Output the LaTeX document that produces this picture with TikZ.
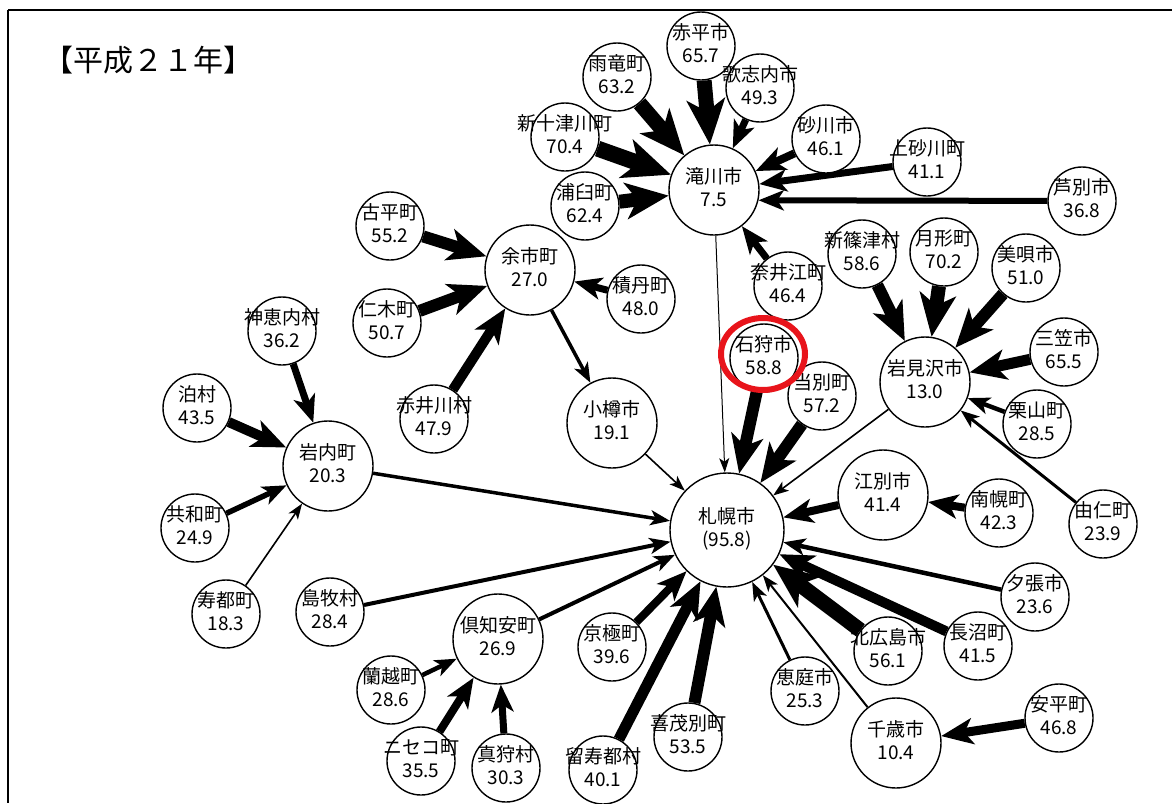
\documentclass[tikz,border=0pt]{standalone}
\usepackage{fontspec}
\setmainfont{Noto Sans CJK JP}
\usepackage{tikz}
\usetikzlibrary{arrows.meta,backgrounds}
\definecolor{ringred}{HTML}{E8141B}
\newcommand{\lbl}[2]{\makebox[0pt]{\begin{tabular}{@{}c@{}}#1\\#2\end{tabular}}}
\tikzset{
  town/.style    = {circle, draw, line width=1.4pt, fill=white, minimum size=68pt,
                    inner sep=0pt, font=\fontsize{19}{23}\selectfont},
  hub/.style     = {town, minimum size=90pt},
  core/.style    = {town, minimum size=114pt},
  flow/.style    = {line width=#1, -{Stealth[length=12pt 2.2, width=8pt 2, inset=3pt 0.6]}},
  redring/.style = {draw=ringred, line width=6pt},
}

\begin{document}
\begin{tikzpicture}[x=1pt, y=-1pt]
  \useasboundingbox (0,0) rectangle (1172,803);
  \draw[line width=1.6pt] (1172,10) -- (8,10);
  \draw[line width=2.6pt] (8,10) -- (8,803);
  \node[anchor=west, font=\fontsize{30}{34}\selectfont] (title) at (40,60) {【平成２１年】};
  % hubs
  \node[core] (sapporo)  at (727,530) {\lbl{札幌市}{(95.8)}};
  \node[hub]  (takikawa) at (714,190) {\lbl{滝川市}{7.5}};
  \node[hub]  (yoichi)   at (530,270) {\lbl{余市町}{27.0}};
  \node[hub]  (otaru)    at (612,423) {\lbl{小樽市}{19.1}};
  \node[hub]  (iwanai)   at (328,466) {\lbl{岩内町}{20.3}};
  \node[hub]  (iwamizawa) at (925,382) {\lbl{岩見沢市}{13.0}};
  \node[hub]  (kutchan)  at (498,639) {\lbl{倶知安町}{26.9}};
  \node[hub]  (ebetsu)   at (883,495) {\lbl{江別市}{41.4}};
  \node[hub]  (chitose)  at (896,743) {\lbl{千歳市}{10.4}};
  % around takikawa
  \node[town] (akabira)   at (701,46)   {\lbl{赤平市}{65.7}};
  \node[town] (uryu)      at (617,77)   {\lbl{雨竜町}{63.2}};
  \node[town] (utashinai) at (760,88)   {\lbl{歌志内市}{49.3}};
  \node[town] (shintotsu) at (565,137)  {\lbl{新十津川町}{70.4}};
  \node[town] (urausu)    at (585,206)  {\lbl{浦臼町}{62.4}};
  \node[town] (sunagawa)  at (826,139)  {\lbl{砂川市}{46.1}};
  \node[town] (kamisuna)  at (927,162)  {\lbl{上砂川町}{41.1}};
  \node[town] (ashibetsu) at (1082,201) {\lbl{芦別市}{36.8}};
  \node[town] (naie)      at (788,286)  {\lbl{奈井江町}{46.4}};
  % around iwamizawa
  \node[town] (shinshino) at (862,254)  {\lbl{新篠津村}{58.6}};
  \node[town] (tsukigata) at (944,252)  {\lbl{月形町}{70.2}};
  \node[town] (bibai)     at (1026,268) {\lbl{美唄市}{51.0}};
  \node[town] (mikasa)    at (1064,352) {\lbl{三笠市}{65.5}};
  \node[town] (kuriyama)  at (1037,424) {\lbl{栗山町}{28.5}};
  \node[town] (yuni)      at (1103,524) {\lbl{由仁町}{23.9}};
  % around yoichi
  \node[town] (furubira)  at (390,226)  {\lbl{古平町}{55.2}};
  \node[town] (niki)      at (387,323)  {\lbl{仁木町}{50.7}};
  \node[town] (shakotan)  at (641,299)  {\lbl{積丹町}{48.0}};
  \node[town] (akaigawa)  at (434,419)  {\lbl{赤井川村}{47.9}};
  % around iwanai
  \node[town] (kamoenai)  at (282,331)  {\lbl{神恵内村}{36.2}};
  \node[town] (tomari)    at (197,408)  {\lbl{泊村}{43.5}};
  \node[town] (kyowa)     at (195,528)  {\lbl{共和町}{24.9}};
  \node[town] (suttsu)    at (226,614)  {\lbl{寿都町}{18.3}};
  \node[town] (shimamaki) at (330,612)  {\lbl{島牧村}{28.4}};
  % around kutchan
  \node[town] (rankoshi)  at (391,690)  {\lbl{蘭越町}{28.6}};
  \node[town] (niseko)    at (421,761)  {\lbl{ニセコ町}{35.5}};
  \node[town] (makkari)   at (506,768)  {\lbl{真狩村}{30.3}};
  % around sapporo
  \node[town] (kyogoku)   at (612,647)  {\lbl{京極町}{39.6}};
  \node[town] (rusutsu)   at (603,770)  {\lbl{留寿都村}{40.1}};
  \node[town] (kimobetsu) at (688,737)  {\lbl{喜茂別町}{53.5}};
  \node[town] (eniwa)     at (805,691)  {\lbl{恵庭市}{25.3}};
  \node[town] (abira)     at (1059,718) {\lbl{安平町}{46.8}};
  \node[town] (kitahiro)  at (888,651)  {\lbl{北広島市}{56.1}};
  \node[town] (naganuma)  at (978,646)  {\lbl{長沼町}{41.5}};
  \node[town] (yubari)    at (1035,597) {\lbl{夕張市}{23.6}};
  \node[town] (nanporo)   at (999,513)  {\lbl{南幌町}{42.3}};
  \node[town] (tobetsu)   at (822,396)  {\lbl{当別町}{57.2}};
  \node[town] (ishikari)  at (764,358)  {\lbl{石狩市}{58.8}};
  \begin{scope}[on background layer]
    % flows into takikawa
    \draw[flow=15pt] (akabira) -- (takikawa);
    \draw[flow=15pt] (uryu) -- (takikawa);
    \draw[flow=7pt] (utashinai) -- (takikawa);
    \draw[flow=16pt] (shintotsu) -- (takikawa);
    \draw[flow=14pt] (urausu) -- (takikawa);
    \draw[flow=8pt] (sunagawa) -- (takikawa);
    \draw[flow=7pt] (kamisuna) -- (takikawa);
    \draw[flow=6pt] (ashibetsu) -- (takikawa.-13);
    \draw[flow=7pt] (naie) -- (takikawa);
    % flows into iwamizawa
    \draw[flow=12pt] (shinshino) -- (iwamizawa);
    \draw[flow=14pt] (tsukigata) -- (iwamizawa);
    \draw[flow=12pt] (bibai) -- (iwamizawa);
    \draw[flow=11pt] (mikasa) -- (iwamizawa);
    \draw[flow=4.5pt] (kuriyama) -- (iwamizawa);
    \draw[flow=3pt] (yuni) -- (iwamizawa);
    % flows into yoichi
    \draw[flow=12pt] (furubira) -- (yoichi);
    \draw[flow=12pt] (niki) -- (yoichi);
    \draw[flow=7pt] (shakotan) -- (yoichi);
    \draw[flow=10pt] (akaigawa) -- (yoichi);
    \draw[flow=3.5pt] (yoichi) -- (otaru);
    % flows into iwanai
    \draw[flow=7pt] (kamoenai) -- (iwanai);
    \draw[flow=10pt] (tomari) -- (iwanai);
    \draw[flow=5.5pt] (kyowa) -- (iwanai);
    \draw[flow=1.6pt] (suttsu) -- (iwanai);
    % flows into kutchan
    \draw[flow=4.5pt] (rankoshi) -- (kutchan);
    \draw[flow=8pt] (niseko) -- (kutchan);
    \draw[flow=7pt] (makkari) -- (kutchan);
    % flows into sapporo
    \draw[flow=1pt] (takikawa) -- (sapporo);
    \draw[flow=12pt] (ishikari) -- (sapporo);
    \draw[flow=12pt] (tobetsu) -- (sapporo);
    \draw[flow=1.6pt] (iwamizawa) -- (sapporo);
    \draw[flow=1.6pt] (otaru) -- (sapporo);
    \draw[flow=3.5pt] (iwanai) -- (sapporo);
    \draw[flow=4pt] (shimamaki) -- (sapporo);
    \draw[flow=4pt] (kutchan) -- (sapporo);
    \draw[flow=8pt] (kyogoku) -- (sapporo);
    \draw[flow=11pt] (rusutsu) -- (sapporo);
    \draw[flow=12pt] (kimobetsu) -- (sapporo);
    \draw[flow=3pt] (eniwa) -- (sapporo);
    \draw[flow=2pt] (chitose) -- (sapporo);
    \draw[flow=15pt] (kitahiro) -- (sapporo);
    \draw[flow=10pt] (naganuma) -- (sapporo);
    \draw[flow=4.5pt] (yubari) -- (sapporo);
    \draw[flow=8pt] (ebetsu) -- (sapporo);
    \draw[flow=8pt] (nanporo) -- (ebetsu);
    \draw[flow=9pt] (abira) -- (chitose);
  \end{scope}
  % highlight
  \draw[redring] ([xshift=-1pt, yshift=4pt]ishikari.center) ellipse [x radius=42pt, y radius=36pt];
\end{tikzpicture}
\end{document}
